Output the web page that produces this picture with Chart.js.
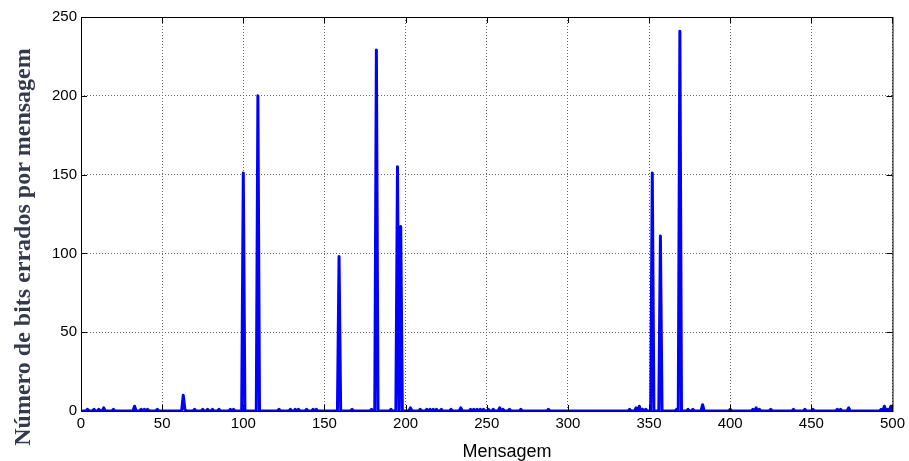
<!DOCTYPE html>
<html>
<head>
<meta charset="utf-8">
<script src="https://cdn.jsdelivr.net/npm/chart.js@4/dist/chart.umd.min.js"></script>
<style>
  html, body { margin: 0; padding: 0; background: #fff; }
  #wrap { width: 909px; height: 461px; }
</style>
</head>
<body>
<div id="wrap"><canvas id="bits-chart" width="909" height="461"></canvas></div>
<script>
// messages (1..500) that had errors, and how many bits were wrong
const errMsg = [4, 8, 11, 14, 20, 33, 37, 39, 41, 47, 63, 64, 70, 75, 78, 81, 85, 92, 94,
    100, 109, 122, 129, 132, 134, 139, 143, 145, 159, 167, 179, 182, 191, 195, 197, 203,
    209, 213, 215, 217, 219, 222, 228, 234, 240, 242, 244, 246, 248, 251, 254, 258, 260,
    264, 271, 288, 338, 342, 344, 346, 348, 352, 357, 367, 369, 374, 377, 383, 400, 414,
    416, 418, 425, 439, 446, 451, 466, 468, 473, 493, 495, 497, 499];
const errBits = [1, 1, 1, 2, 1, 3, 1, 1, 1, 1, 10, 1, 1, 1, 1, 1, 1, 1, 1,
    151, 200, 1, 1, 1, 1, 1, 1, 1, 98, 1, 1, 229, 1, 155, 117, 2,
    1, 1, 1, 1, 1, 1, 1, 2, 1, 1, 1, 1, 1, 1, 1, 2, 1,
    1, 1, 1, 1, 2, 3, 1, 1, 151, 111, 1, 241, 1, 1, 4, 1, 1,
    2, 1, 1, 1, 1, 1, 1, 1, 2, 1, 3, 1, 3];
const totalMsgs = 500;
const xTicks = [0, 50, 100, 150, 200, 250, 300, 350, 400, 450, 500];
const yTicks = [0, 50, 100, 150, 200, 250];
const xLabel = 'Mensagem';
const yLabel = 'Número de bits errados por mensagem';

const points = [];
for (let m = 1; m <= totalMsgs; m++) {
    const k = errMsg.indexOf(m);
    points.push({ x: m, y: k >= 0 ? errBits[k] : 0 });
}

// matlab style box, inward ticks, and the two axis titles
const frame = {
    id: 'frame',
    afterDraw(chart) {
        const { ctx, chartArea: a, scales } = chart;
        ctx.save();
        ctx.strokeStyle = '#000';
        ctx.lineWidth = 1;
        ctx.strokeRect(a.left + 0.5, a.top + 0.5, a.right - a.left, a.bottom - a.top);
        ctx.beginPath();
        xTicks.forEach(v => {
            const px = Math.round(scales.x.getPixelForValue(v)) + 0.5;
            ctx.moveTo(px, a.top); ctx.lineTo(px, a.top + 6);
            ctx.moveTo(px, a.bottom); ctx.lineTo(px, a.bottom - 6);
        });
        yTicks.forEach(v => {
            const py = Math.round(scales.y.getPixelForValue(v)) + 0.5;
            ctx.moveTo(a.left, py); ctx.lineTo(a.left + 6, py);
            ctx.moveTo(a.right, py); ctx.lineTo(a.right - 6, py);
        });
        ctx.stroke();

        ctx.fillStyle = '#000';
        ctx.font = '18px "Liberation Sans", Arial, sans-serif';
        ctx.textAlign = 'center';
        ctx.textBaseline = 'alphabetic';
        ctx.fillText(xLabel, 507, 457);

        ctx.translate(24, 247);
        ctx.rotate(-Math.PI / 2);
        ctx.fillStyle = '#343a4e';
        ctx.font = 'bold 24px "Liberation Serif", "Times New Roman", serif';
        ctx.textBaseline = 'middle';
        ctx.fillText(yLabel, 0, 0);
        ctx.restore();
    }
};

new Chart(document.getElementById('bits-chart'), {
    type: 'line',
    data: {
        datasets: [{
            label: 'Bits errados',
            data: points,
            borderColor: '#0000ff',
            backgroundColor: '#0000ff',
            borderWidth: 3,
            borderJoinStyle: 'round',
            borderCapStyle: 'round',
            pointRadius: 0,
            tension: 0
        }]
    },
    options: {
        responsive: false,
        animation: false,
        layout: { padding: { top: 17, right: 16, left: 0, bottom: 0 } },
        plugins: {
            legend: { display: false },
            tooltip: { enabled: false }
        },
        scales: {
            x: {
                type: 'linear',
                min: 0,
                max: 500,
                afterBuildTicks: s => { s.ticks = xTicks.map(v => ({ value: v })); },
                afterFit: s => { s.height = 50; },
                grid: { color: '#666', drawTicks: false },
                border: { display: false, dash: [1, 2] },
                ticks: {
                    color: '#000',
                    padding: 4,
                    maxRotation: 0,
                    font: { family: '"Liberation Sans", Arial, sans-serif', size: 15 }
                }
            },
            y: {
                min: 0,
                max: 250,
                afterBuildTicks: s => { s.ticks = yTicks.map(v => ({ value: v })); },
                afterFit: s => { s.width = 81; },
                grid: { color: '#666', drawTicks: false },
                border: { display: false, dash: [1, 2] },
                ticks: {
                    color: '#000',
                    padding: 4,
                    font: { family: '"Liberation Sans", Arial, sans-serif', size: 15 }
                }
            }
        }
    },
    plugins: [frame]
});
</script>
</body>
</html>
